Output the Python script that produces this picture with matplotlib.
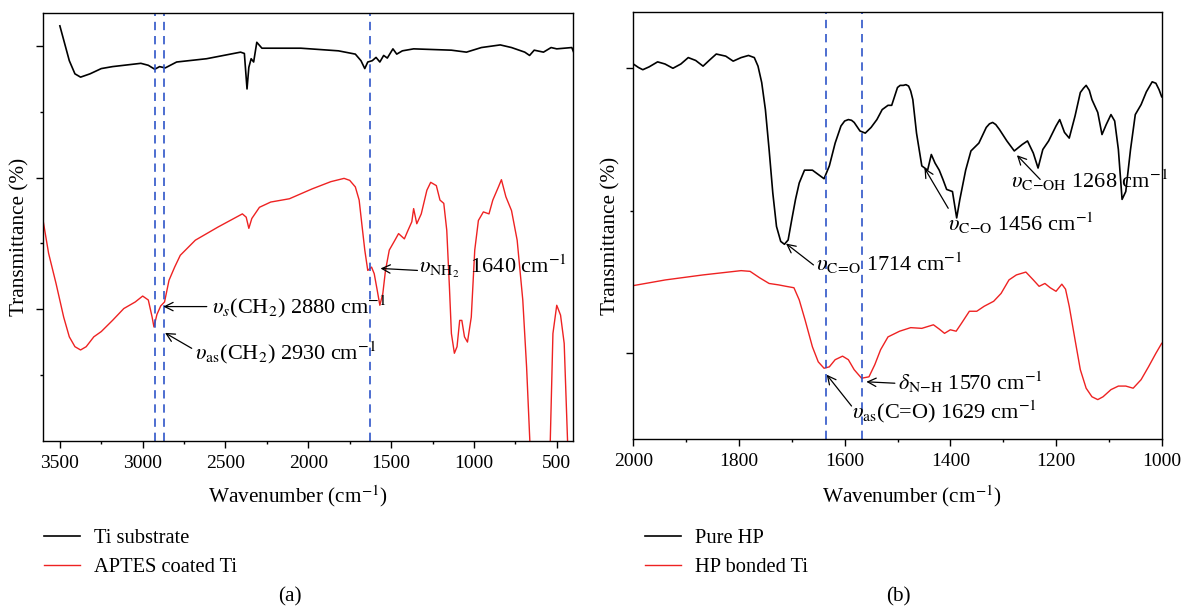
import matplotlib
matplotlib.use('Agg')
import matplotlib.pyplot as plt
from matplotlib.ticker import MultipleLocator, FixedLocator, NullFormatter

plt.rcParams['font.family'] = ['Liberation Serif', 'DejaVu Serif']
plt.rcParams['mathtext.fontset'] = 'stix'

# ---------------- Panel (a) data ----------------
ti_wn = [3500, 3443, 3409, 3375, 3318, 3250, 3182, 3011, 2966, 2927, 2898, 2864, 2795,
         2614, 2409, 2386, 2370, 2359, 2345, 2330, 2311, 2280, 2045, 1818, 1716, 1682,
         1659, 1641, 1614, 1591, 1568, 1545, 1523, 1489, 1466, 1432, 1364, 1136, 1045,
         955, 841, 773, 693, 664, 636, 580, 534, 500, 409, 398]
ti_val = [63.1, 57.8, 55.8, 55.3, 55.8, 56.6, 56.9, 57.4, 57.1, 56.5, 56.9, 56.7, 57.6,
          58.1, 59.1, 58.9, 53.5, 56.8, 58.1, 57.6, 60.6, 59.7, 59.7, 59.3, 58.8, 57.8,
          56.6, 57.6, 57.8, 58.3, 57.6, 58.6, 58.2, 59.6, 58.8, 59.3, 59.6, 59.4, 59.1,
          59.8, 60.2, 59.8, 59.1, 58.6, 59.4, 59.1, 59.8, 59.6, 59.8, 59.1]

aptes_wn = [3600, 3568, 3523, 3477, 3443, 3409, 3375, 3341, 3295, 3250, 3182, 3114, 3045,
            3000, 2966, 2943, 2932, 2914, 2891, 2868, 2841, 2807, 2773, 2682, 2545, 2398,
            2375, 2359, 2341, 2295, 2227, 2114, 1977, 1864, 1784, 1750, 1716, 1693, 1677,
            1659, 1641, 1618, 1602, 1584, 1568, 1550, 1534, 1511, 1477, 1455, 1420, 1398,
            1375, 1364, 1345, 1318, 1284, 1261, 1227, 1205, 1182, 1164, 1148, 1136, 1118,
            1102, 1086, 1073, 1057, 1039, 1016, 995, 973, 943, 909, 886, 852, 834, 807,
            773, 739, 705, 682, 659, 650, 550, 541, 523, 500, 477, 455, 432, 425]
aptes_val = [33.3, 28.5, 23.9, 18.8, 15.8, 14.3, 13.8, 14.3, 15.8, 16.6, 18.3, 20.1, 21.1,
             22.0, 21.4, 18.8, 17.3, 19.2, 20.5, 21.1, 24.4, 26.4, 28.2, 30.5, 32.5, 34.5,
             34.0, 32.3, 33.8, 35.5, 36.3, 36.8, 38.3, 39.4, 39.9, 39.6, 38.6, 36.6, 33.0,
             29.0, 25.9, 26.4, 25.4, 22.9, 20.6, 22.4, 25.9, 29.0, 30.5, 31.5, 30.7, 32.0,
             33.3, 35.3, 33.0, 34.5, 38.1, 39.3, 38.8, 36.6, 36.1, 32.0, 23.4, 16.3, 13.3,
             14.3, 18.3, 18.3, 15.8, 15.0, 18.8, 29.0, 33.5, 34.8, 34.5, 36.6, 38.6, 39.7,
             37.1, 35.0, 30.5, 21.4, 11.2, -2.0, -30.0, -30.0, -2.0, 16.3, 20.6, 19.1,
             14.8, -2.0, -10.0]

a_marks = [2927, 2870, 1625]

# ---------------- Panel (b) data ----------------
hp_wn = [2000, 1990, 1982, 1970, 1954, 1940, 1925, 1910, 1896, 1882, 1868, 1855, 1843,
         1825, 1811, 1796, 1782, 1771, 1764, 1757, 1750, 1743, 1736, 1729, 1721, 1714,
         1707, 1700, 1693, 1686, 1676, 1661, 1650, 1639, 1629, 1618, 1607, 1600, 1593,
         1587, 1582, 1571, 1561, 1550, 1539, 1529, 1518, 1511, 1500, 1495, 1489, 1484,
         1479, 1475, 1471, 1464, 1454, 1443, 1436, 1429, 1421, 1414, 1407, 1396, 1388,
         1382, 1371, 1361, 1346, 1332, 1326, 1320, 1314, 1307, 1293, 1279, 1264, 1254,
         1243, 1234, 1225, 1214, 1200, 1193, 1184, 1175, 1164, 1154, 1148, 1143, 1137,
         1132, 1121, 1113, 1105, 1096, 1089, 1082, 1075, 1068, 1059, 1050, 1039, 1029,
         1018, 1011, 1005, 1000]
hp_val = [60.6, 60.1, 59.8, 60.2, 60.9, 60.6, 60.0, 60.6, 61.5, 61.1, 60.3, 61.2, 62.0,
          61.7, 61.0, 61.5, 61.8, 61.5, 60.3, 58.0, 54.2, 48.6, 42.5, 37.8, 35.7, 35.3,
          35.9, 38.8, 41.6, 43.9, 45.7, 45.7, 45.1, 44.5, 46.3, 49.5, 51.9, 52.6, 52.8,
          52.7, 52.4, 51.2, 50.9, 51.7, 52.8, 54.2, 54.8, 54.8, 57.3, 57.6, 57.6, 57.7,
          57.5, 56.8, 55.6, 50.9, 46.3, 45.7, 47.9, 46.7, 45.7, 44.4, 43.0, 42.7, 39.0,
          41.6, 45.7, 48.4, 49.5, 51.7, 52.2, 52.4, 52.1, 51.4, 49.8, 48.4, 49.3, 49.8,
          48.1, 46.0, 48.6, 49.8, 51.9, 52.8, 51.0, 50.2, 53.3, 56.6, 57.2, 57.6, 56.9,
          55.6, 53.8, 50.7, 52.1, 53.5, 52.6, 48.6, 41.6, 42.7, 48.6, 53.5, 54.9, 56.7,
          58.1, 57.9, 57.0, 56.0]

hpti_wn = [2000, 1939, 1868, 1796, 1779, 1761, 1743, 1725, 1711, 1696, 1686, 1675, 1661,
           1650, 1639, 1629, 1618, 1604, 1593, 1582, 1568, 1554, 1543, 1532, 1518, 1496,
           1475, 1454, 1432, 1421, 1411, 1400, 1389, 1379, 1364, 1350, 1336, 1318, 1304,
           1289, 1275, 1257, 1243, 1232, 1221, 1211, 1200, 1189, 1182, 1175, 1164, 1154,
           1143, 1132, 1121, 1111, 1096, 1082, 1068, 1054, 1039, 1025, 1011, 1000]
hpti_val = [29.5, 30.3, 31.0, 31.6, 31.5, 30.6, 29.8, 29.6, 29.4, 29.2, 27.5, 24.7, 20.9,
            18.8, 17.9, 18.1, 19.1, 19.6, 19.1, 17.7, 16.5, 16.7, 18.4, 20.5, 22.3, 23.1,
            23.6, 23.5, 24.0, 23.4, 22.8, 23.3, 23.1, 24.2, 25.9, 25.9, 26.6, 27.3, 28.4,
            30.3, 31.0, 31.4, 30.3, 29.4, 29.8, 29.2, 28.7, 29.7, 29.0, 26.6, 21.9, 17.7,
            15.1, 13.9, 13.5, 13.9, 14.9, 15.4, 15.4, 15.1, 16.3, 18.1, 20.0, 21.4]

b_marks = [1635, 1567]

BLACK = '#000000'
RED = '#ee2222'
BLUE = '#2f55c8'
FS_TICK = 14
FS_LAB = 15.3
FS_LEG = 14.8
FS_ANN = 16

fig = plt.figure(figsize=(11.85, 6.09), dpi=100)
W, H = 1185.0, 609.0


def axes_px(l, t, r, b):
    return fig.add_axes([l / W, 1 - b / H, (r - l) / W, (b - t) / H])


def style(ax):
    for s in ax.spines.values():
        s.set_linewidth(1.0)
    ax.tick_params(axis='both', which='major', direction='out', length=5, width=1.0,
                   labelsize=FS_TICK, pad=5)
    ax.tick_params(axis='both', which='minor', direction='out', length=2.5, width=1.0)
    ax.yaxis.set_major_formatter(NullFormatter())
    ax.yaxis.set_minor_formatter(NullFormatter())


def arrow(ax, tail, tip):
    ax.annotate('', xy=tip, xytext=tail,
                arrowprops=dict(arrowstyle='->', lw=0.9, color='black',
                                shrinkA=0, shrinkB=0, mutation_scale=15))


# ---------------- Panel (a) ----------------
ax1 = axes_px(43.3, 12.7, 573.3, 440.7)
l1, = ax1.plot(ti_wn, ti_val, color=BLACK, lw=1.2, label='Ti substrate')
l2, = ax1.plot(aptes_wn, aptes_val, color=RED, lw=1.0, label='APTES coated Ti')
for m in a_marks:
    ax1.axvline(m, color=BLUE, lw=1.2, ls=(0, (5, 3.5)))
ax1.set_xlim(3600, 400)
ax1.set_ylim(0, 65.1)
ax1.xaxis.set_major_locator(MultipleLocator(500))
ax1.xaxis.set_minor_locator(MultipleLocator(250))
ax1.yaxis.set_major_locator(FixedLocator([20, 40, 60]))
ax1.yaxis.set_minor_locator(FixedLocator([10, 30, 50]))
style(ax1)
ax1.set_ylabel('Transmittance (%)', fontsize=FS_LAB)
ax1.yaxis.set_label_coords(-0.027, 0.475)

ax1.text(2583, 19.4, r'$\upsilon_s$(CH$_2$) 2880 cm$^{-1}$', fontsize=FS_ANN,
         ha='left', va='baseline')
arrow(ax1, (2613, 20.4), (2875, 20.4))
ax1.text(2685, 12.3, r'$\upsilon_{\mathrm{as}}$(CH$_2$) 2930 cm$^{-1}$', fontsize=FS_ANN,
         ha='left', va='baseline')
arrow(ax1, (2704, 14.05), (2865, 16.4))
ax1.text(1331, 25.5, r'$\upsilon_{\mathrm{NH_2}}$  1640 cm$^{-1}$', fontsize=FS_ANN,
         ha='left', va='baseline')
arrow(ax1, (1341, 25.9), (1564, 26.2))

fig.text(298 / W, 1 - 502 / H, r'Wavenumber (cm$^{-1}$)', fontsize=FS_LAB,
         ha='center', va='baseline')
fig.legend(handles=[l1, l2], loc='upper left', bbox_to_anchor=(44 / W, 1 - 529 / H),
           frameon=False, fontsize=FS_LEG, handlelength=1.75, handletextpad=0.7,
           labelspacing=0.45, borderpad=0, borderaxespad=0)
fig.text(290 / W, 1 - 597 / H, '(a)', fontsize=FS_LAB, ha='center', va='center')

# ---------------- Panel (b) ----------------
ax2 = axes_px(633.3, 11.7, 1161.7, 439.3)
l3, = ax2.plot(hp_wn, hp_val, color=BLACK, lw=1.2, label='Pure HP')
l4, = ax2.plot(hpti_wn, hpti_val, color=RED, lw=1.0, label='HP bonded Ti')
for m in b_marks:
    ax2.axvline(m, color=BLUE, lw=1.2, ls=(0, (5, 3.5)))
ax2.set_xlim(2000, 1000)
ax2.set_ylim(7.93, 67.94)
ax2.xaxis.set_major_locator(MultipleLocator(200))
ax2.xaxis.set_minor_locator(MultipleLocator(100))
ax2.yaxis.set_major_locator(FixedLocator([20, 60]))
ax2.yaxis.set_minor_locator(FixedLocator([40]))
style(ax2)
ax2.set_ylabel('Transmittance (%)', fontsize=FS_LAB)
ax2.yaxis.set_label_coords(-0.025, 0.475)

ax2.text(1654, 31.5, r'$\upsilon_{\mathrm{C}\!=\!\mathrm{O}}$ 1714 cm$^{-1}$', fontsize=FS_ANN,
         ha='left', va='baseline')
arrow(ax2, (1659, 32.4), (1711, 35.4))
ax2.text(1404, 37.1, r'$\upsilon_{\mathrm{C{-}O}}$ 1456 cm$^{-1}$', fontsize=FS_ANN,
         ha='left', va='baseline')
arrow(ax2, (1404, 40.35), (1449, 46.0))
ax2.text(1286, 43.2, r'$\upsilon_{\mathrm{C{-}OH}}$ 1268 cm$^{-1}$', fontsize=FS_ANN,
         ha='left', va='baseline')
arrow(ax2, (1230, 44.4), (1274, 47.8))
ax2.text(1500, 14.85, r'$\delta_{\mathrm{N{-}H}}$ 1570 cm$^{-1}$', fontsize=FS_ANN,
         ha='left', va='baseline')
arrow(ax2, (1505, 15.8), (1559, 16.0))
ax2.text(1587, 10.9, r'$\upsilon_{\mathrm{as}}$(C=O) 1629 cm$^{-1}$', fontsize=FS_ANN,
         ha='left', va='baseline')
arrow(ax2, (1587, 12.6), (1634, 17.0))

fig.text(912 / W, 1 - 502 / H, r'Wavenumber (cm$^{-1}$)', fontsize=FS_LAB,
         ha='center', va='baseline')
fig.legend(handles=[l3, l4], loc='upper left', bbox_to_anchor=(645 / W, 1 - 529 / H),
           frameon=False, fontsize=FS_LEG, handlelength=1.75, handletextpad=0.7,
           labelspacing=0.45, borderpad=0, borderaxespad=0)
fig.text(898 / W, 1 - 597 / H, '(b)', fontsize=FS_LAB, ha='center', va='center')

fig.savefig('out.png', dpi=100)
